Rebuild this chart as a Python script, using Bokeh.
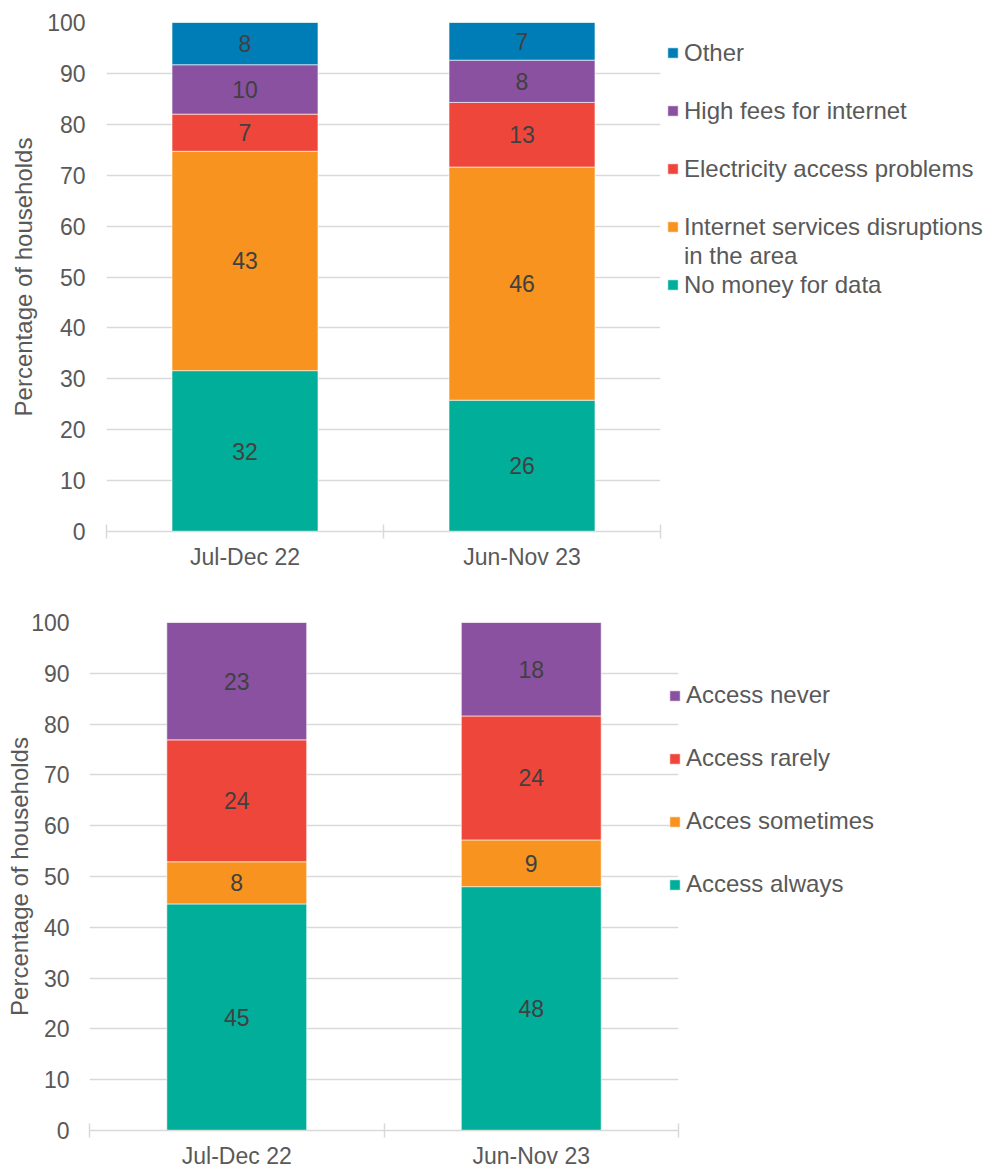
from bokeh.plotting import figure
from bokeh.models import Range1d, FixedTicker, Legend, LegendItem, ColumnDataSource
from bokeh.embed import file_html
from bokeh.resources import INLINE
from bokeh.core.properties import value

# ---------------- data ----------------
periods = ["Jul-Dec 22", "Jun-Nov 23"]

# Chart 1: reasons for lack of internet access (stack order bottom -> top)
reason_labels = ["No money for data", "Internet services disruptions\nin the area",
                 "Electricity access problems", "High fees for internet", "Other"]
no_money = [31.6, 25.8]
disruptions = [43.1, 45.8]
electricity = [7.3, 12.7]
high_fees = [9.7, 8.3]
other = [8.3, 7.4]
reason_colors = ["#00ae9a", "#f7931e", "#ef463b", "#8951a0", "#007db7"]

# Chart 2: frequency of internet access (stack order bottom -> top)
access_labels = ["Access always", "Acces sometimes", "Access rarely", "Access never"]
always = [44.6, 48.0]
sometimes = [8.3, 9.2]
rarely = [24.0, 24.4]
never = [23.1, 18.4]
access_colors = ["#00ae9a", "#f7931e", "#ef463b", "#8951a0"]

y_ticks = list(range(0, 101, 10))
y_title = "Percentage of households"

FONT = "Liberation Sans"
TICK_COLOR = "#595959"
GRID_COLOR = "#d9d9d9"
LABEL_COLOR = "#404040"


def make_chart(series_labels, series_values, colors, bar_width, frame_w, frame_h,
               border_l, border_r, border_t, border_b, lab_standoff, title_standoff,
               x_standoff, legend_loc, legend_font, slots, slot_h, slot_gap):
    n = len(periods)
    xs = list(range(n))
    keys = ["s%d" % i for i in range(len(series_values))]
    data = {"x": xs}
    for k, v in zip(keys, series_values):
        data[k] = v
    src = ColumnDataSource(data)

    p = figure(frame_width=frame_w, frame_height=frame_h,
               min_border_left=border_l, min_border_right=border_r,
               min_border_top=border_t, min_border_bottom=border_b,
               x_range=Range1d(-0.5, n - 0.5), y_range=Range1d(0, 100),
               output_backend="svg", toolbar_location=None,
               background_fill_color="white", border_fill_color="white")
    p.outline_line_color = None

    rs = p.vbar_stack(keys, x="x", width=bar_width, color=colors, source=src,
                      line_color="white", line_alpha=0.6, line_width=1)

    # value labels at segment centres
    lx, ly, lt = [], [], []
    for i in range(n):
        base = 0.0
        for v in series_values:
            val = v[i]
            lx.append(xs[i])
            ly.append(base + val / 2.0)
            lt.append(str(int(round(val))))
            base += val
    p.text(x=lx, y=ly, text=lt, text_align="center", text_baseline="middle",
           text_font=value(FONT), text_font_size="23px", text_color=LABEL_COLOR)

    # axes
    p.xgrid.visible = False
    p.ygrid.grid_line_color = GRID_COLOR
    p.ygrid.grid_line_width = 1.5
    p.yaxis.ticker = FixedTicker(ticks=y_ticks)
    p.yaxis.axis_line_color = None
    p.yaxis.major_tick_line_color = None
    p.yaxis.minor_tick_line_color = None
    p.yaxis.major_tick_in = 0
    p.yaxis.major_tick_out = 0
    p.yaxis.major_label_text_font = FONT
    p.yaxis.major_label_text_font_size = "23px"
    p.yaxis.major_label_text_color = TICK_COLOR
    p.yaxis.major_label_standoff = lab_standoff
    p.yaxis.axis_label = y_title
    p.yaxis.axis_label_text_font = FONT
    p.yaxis.axis_label_text_font_size = "24px"
    p.yaxis.axis_label_text_font_style = "normal"
    p.yaxis.axis_label_text_color = TICK_COLOR
    p.yaxis.axis_label_standoff = title_standoff

    p.xaxis.ticker = FixedTicker(ticks=xs, minor_ticks=[i - 0.5 for i in range(n + 1)])
    p.xaxis.major_label_overrides = {i: periods[i] for i in xs}
    p.xaxis.axis_line_color = GRID_COLOR
    p.xaxis.axis_line_width = 1.5
    p.xaxis.major_tick_line_color = None
    p.xaxis.major_tick_in = 0
    p.xaxis.major_tick_out = 7
    p.xaxis.minor_tick_line_color = GRID_COLOR
    p.xaxis.minor_tick_line_width = 1.5
    p.xaxis.minor_tick_in = 7
    p.xaxis.minor_tick_out = 7
    p.xaxis.major_label_text_font = FONT
    p.xaxis.major_label_text_font_size = "23px"
    p.xaxis.major_label_text_color = TICK_COLOR
    p.xaxis.major_label_standoff = x_standoff

    # legend (top item = top of stack); extra lines / gaps use an empty renderer
    blank = p.vbar(x=[], top=[], width=0.5, fill_alpha=0, line_alpha=0)
    items = []
    order = list(zip(rs, series_labels))[::-1]
    for j, (r, lab) in enumerate(order):
        lines = lab.split("\n")
        items.append(LegendItem(label=lines[0], renderers=[r]))
        for line in lines[1:]:
            items.append(LegendItem(label=line, renderers=[blank]))
        if j < len(order) - 1:
            for _ in range(slots - len(lines)):
                items.append(LegendItem(label=" ", renderers=[blank]))
    leg = Legend(items=items, location=legend_loc, orientation="vertical",
                 glyph_width=13, glyph_height=13, label_height=slot_h,
                 label_standoff=5, spacing=slot_gap, padding=0, margin=0,
                 border_line_color=None, background_fill_alpha=0,
                 label_text_font=FONT, label_text_font_size=legend_font,
                 label_text_color=TICK_COLOR)
    p.add_layout(leg, "right")
    return p


p1 = make_chart(reason_labels, [no_money, disruptions, electricity, high_fees, other],
                reason_colors, 0.527, 554, 509, 106, 323, 22, 57, 21, 7, 5,
                (6, 232), "24px", 2, 29, 0)
p2 = make_chart(access_labels, [always, sometimes, rarely, never],
                access_colors, 0.475, 589, 508, 89, 305, 34, 40, 20, -5, 5,
                (-10, 231), "24px", 1, 30, 33)

open("out.html", "w").write(file_html([p1, p2], INLINE))
